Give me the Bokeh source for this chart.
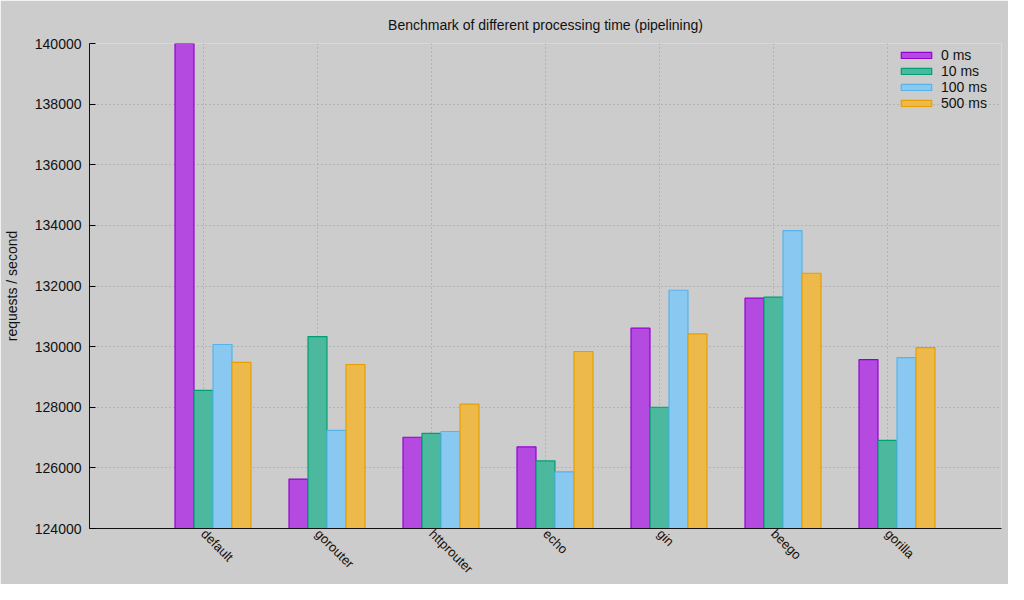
import numpy as np
from bokeh.plotting import figure
from bokeh.models import Range1d, FixedTicker, BasicTickFormatter, Legend, LegendItem
from bokeh.embed import file_html
from bokeh.resources import INLINE

# ---- data ----
frameworks = ["default", "gorouter", "httprouter", "echo", "gin", "beego", "gorilla"]
series_names = ["0 ms", "10 ms", "100 ms", "500 ms"]
rps_0ms = [140000, 125630, 127010, 126690, 130610, 131600, 129570]
rps_10ms = [128560, 130330, 127140, 126230, 128000, 131630, 126910]
rps_100ms = [130070, 127240, 127200, 125870, 131860, 133830, 129640]
rps_500ms = [129480, 129410, 128100, 129840, 130420, 132420, 129970]
y_ticks = [124000, 126000, 128000, 130000, 132000, 134000, 136000, 138000, 140000]

series_values = [rps_0ms, rps_10ms, rps_100ms, rps_500ms]
edge_colors = ["#9400d3", "#009e73", "#56b4e9", "#e69f00"]
fill_colors = ["#b44ae0", "#4cb99f", "#89c8f0", "#edb94a"]

BASE = y_ticks[0]
FONT = "Liberation Sans"
BG = "#cccccc"
TXT = "#111111"

p = figure(width=1008, height=584, output_backend="svg", toolbar_location=None,
           x_range=Range1d(-1, len(frameworks)), y_range=Range1d(y_ticks[0], y_ticks[-1]),
           title="Benchmark of different processing time (pipelining)",
           min_border_left=88, min_border_right=7, min_border_top=43, min_border_bottom=53)

p.background_fill_color = BG
p.border_fill_color = BG
p.outline_line_color = None

p.title.align = "center"
p.title.text_font = FONT
p.title.text_font_size = "14px"
p.title.text_font_style = "normal"
p.title.text_color = TXT
p.title.standoff = 22

idx = np.arange(len(frameworks))
bar_w = 1.0 / 6.0
renderers = []
for k, vals in enumerate(series_values):
    r = p.vbar(x=idx + (k - 1) * bar_w, width=bar_w, top=vals, bottom=BASE,
               fill_color=fill_colors[k], line_color=edge_colors[k], line_width=1.2)
    renderers.append(r)

# axes
p.xaxis.ticker = FixedTicker(ticks=list(idx))
p.xaxis.major_label_overrides = {int(i): n for i, n in zip(idx, frameworks)}
p.xaxis.major_label_orientation = -np.pi / 4
p.xaxis.major_tick_in = 0
p.xaxis.major_tick_out = 0
p.xaxis.minor_tick_line_color = None
p.xaxis.major_label_text_font = FONT
p.xaxis.major_label_text_font_size = "13px"
p.xaxis.major_label_text_color = TXT
p.xaxis.major_label_standoff = 3
p.xaxis.axis_line_color = TXT

p.yaxis.ticker = FixedTicker(ticks=y_ticks)
p.yaxis.formatter = BasicTickFormatter(use_scientific=False)
p.yaxis.major_tick_in = 6
p.yaxis.major_tick_out = 0
p.yaxis.minor_tick_line_color = None
p.yaxis.major_label_text_font = FONT
p.yaxis.major_label_text_font_size = "14px"
p.yaxis.major_label_text_color = TXT
p.yaxis.major_label_standoff = 8
p.yaxis.axis_label = "requests / second"
p.yaxis.axis_label_text_font = FONT
p.yaxis.axis_label_text_font_size = "14px"
p.yaxis.axis_label_text_font_style = "normal"
p.yaxis.axis_label_text_color = TXT
p.yaxis.axis_label_standoff = 12
p.yaxis.axis_line_color = TXT

# grid
p.xgrid.ticker = FixedTicker(ticks=list(idx))
for g in (p.xgrid, p.ygrid):
    g.grid_line_color = "#9a9a9a"
    g.grid_line_dash = "1 3"
    g.grid_line_width = 1

legend = Legend(items=[LegendItem(label=n, renderers=[r]) for n, r in zip(series_names, renderers)],
                location="top_right", border_line_color=None, background_fill_alpha=0,
                label_text_font=FONT, label_text_font_size="14px", label_text_color=TXT,
                glyph_width=38, glyph_height=8, label_height=12, label_width=56, spacing=0,
                padding=2, margin=4, label_standoff=6)
p.add_layout(legend)

open("out.html", "w").write(file_html(p, INLINE))
